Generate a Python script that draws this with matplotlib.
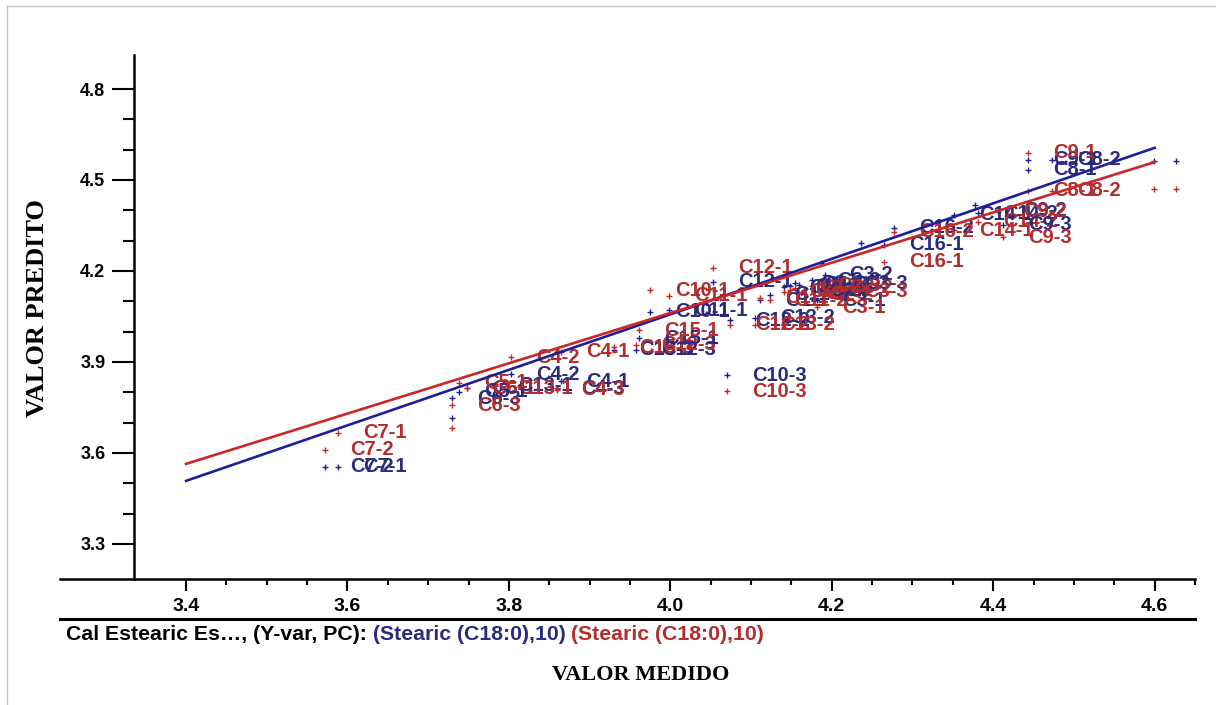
import numpy as np
import matplotlib.pyplot as plt
from matplotlib.lines import Line2D

# Samples: measured value, calibration prediction (blue), validation prediction (red)
names = ["C7-1", "C7-2", "C6-3", "C6-1", "C13-1", "C5-1", "C4-2", "C4-1", "C4-3",
         "C15-3", "C12-3", "C15-1", "C10-1", "C11-1", "C12-1", "C10-3", "C12-2",
         "C13-2", "C1-1", "C11-2", "C11-3", "C1-2", "C2-1", "C1-3", "C2-2", "C2-3",
         "C3-1", "C3-2", "C3-3", "C16-1", "C16-2", "C14-1", "C14-2", "C9-3", "C9-2",
         "C9-1", "C8-1", "C8-2"]
measured = [3.588, 3.572, 3.730, 3.748, 3.781, 3.738, 3.803, 3.865, 3.859,
            3.930, 3.957, 3.961, 3.975, 3.998, 4.053, 4.070, 4.074,
            4.105, 4.111, 4.123, 4.141, 4.148, 4.154, 4.160, 4.166, 4.176,
            4.182, 4.191, 4.209, 4.265, 4.277, 4.351, 4.381, 4.412, 4.406,
            4.443, 4.443, 4.473]
pred_cal = [3.554, 3.554, 3.781, 3.814, 3.824, 3.801, 3.860, 3.837, 3.814,
            3.940, 3.940, 3.979, 4.065, 4.071, 4.164, 3.857, 4.038,
            4.045, 4.104, 4.121, 4.147, 4.150, 4.160, 4.155, 4.137, 4.170,
            4.104, 4.187, 4.160, 4.286, 4.342, 4.385, 4.391, 4.352, 4.401,
            4.566, 4.533, 4.566]
pred_val = [3.666, 3.610, 3.758, 3.814, 3.814, 3.831, 3.916, 3.933, 3.808,
            3.949, 3.956, 4.005, 4.137, 4.118, 4.210, 3.804, 4.022,
            4.022, 4.111, 4.104, 4.131, 4.137, 4.144, 4.127, 4.124, 4.151,
            4.081, 4.144, 4.131, 4.230, 4.329, 4.335, 4.362, 4.312, 4.395,
            4.589, 4.464, 4.464]

# Unlabelled points
cal_only_x = [4.599, 4.627, 4.236, 4.187, 4.378, 3.730]
cal_only_y = [4.563, 4.563, 4.292, 4.226, 4.418, 3.715]
val_only_x = [4.599, 4.627, 3.730]
val_only_y = [4.470, 4.470, 3.682]

# Regression lines
fit_x = [3.4, 4.6]
fit_cal = [3.508, 4.606]
fit_val = [3.564, 4.559]

blue = "#1e1e9c"
red = "#cc2626"
blue_txt = "#2b2b7d"
red_txt = "#b22d2d"

W, H = 1216, 705
fig = plt.figure(figsize=(W / 100, H / 100), dpi=100)


def fx(px):
    return px / W


def fy(py):
    return 1 - py / H


# x: 3.4 -> 187 px, 813.3 px per unit; y: 4.8 -> 89 px, 303.3 px per unit
ax = fig.add_axes([fx(60), fy(579), fx(1195) - fx(60), fy(55) - fy(579)])
ax.set_xlim(3.4 + (60 - 187) / 813.3, 3.4 + (1195 - 187) / 813.3)
ax.set_ylim(4.8 - (579 - 89) / 303.3, 4.8 - (55 - 89) / 303.3)

for s in ["top", "right"]:
    ax.spines[s].set_visible(False)
ax.spines["left"].set_position(("data", 3.4 + (135 - 187) / 813.3))
ax.spines["left"].set_linewidth(1.8)
ax.spines["bottom"].set_linewidth(1.8)

xt = np.arange(3.4, 4.61, 0.2)
yt = np.arange(3.3, 4.81, 0.3)
ax.set_xticks(xt)
ax.set_xticks(np.arange(3.45, 4.66, 0.05), minor=True)
ax.set_yticks(yt)
ax.set_yticks(np.arange(3.4, 4.71, 0.1), minor=True)
ax.set_xticklabels([f"{v:.1f}" for v in xt])
ax.set_yticklabels([f"{v:.1f}" for v in yt])

ax.tick_params(axis="x", which="major", direction="out", length=8.6, width=1.5,
               pad=5, labelsize=14)
ax.tick_params(axis="x", which="minor", direction="out", length=4.3, width=1.5)
ax.tick_params(axis="y", which="major", direction="out", length=16, width=1.5,
               pad=5, labelsize=13)
ax.tick_params(axis="y", which="minor", direction="out", length=8, width=1.5)
for lab in ax.get_xticklabels() + ax.get_yticklabels():
    lab.set_fontweight("bold")
    lab.set_family("Liberation Sans")

# points and sample names
ax.plot(measured, pred_cal, "+", color=blue, ms=5, mew=1, zorder=2)
ax.plot(measured, pred_val, "+", color=red, ms=5, mew=1, zorder=2)
ax.plot(cal_only_x, cal_only_y, "+", color=blue, ms=5, mew=1, zorder=2)
ax.plot(val_only_x, val_only_y, "+", color=red, ms=5, mew=1, zorder=2)
for n, x, yc, yv in zip(names, measured, pred_cal, pred_val):
    ax.annotate(n, (x, yc), xytext=(18, 0), textcoords="offset points",
                va="center", ha="left", fontsize=14.5, fontweight="bold",
                color=blue_txt, family="Liberation Sans", zorder=2)
    ax.annotate(n, (x, yv), xytext=(18, 0), textcoords="offset points",
                va="center", ha="left", fontsize=14.5, fontweight="bold",
                color=red_txt, family="Liberation Sans", zorder=2)

ax.plot(fit_x, fit_cal, color=blue, lw=1.9, zorder=3)
ax.plot(fit_x, fit_val, color=red, lw=1.9, zorder=4)

# second rule under the tick labels
fig.add_artist(Line2D([fx(60), fx(1195)], [fy(619), fy(619)], color="black",
                      lw=2.2, transform=fig.transFigure))

# light frame around the panel
fig.add_artist(Line2D([fx(7), fx(7)], [fy(6), 0], color="#c4c4c4", lw=1,
                      transform=fig.transFigure))
fig.add_artist(Line2D([fx(7), 1], [fy(6), fy(6)], color="#c4c4c4", lw=1,
                      transform=fig.transFigure))

# legend line built from coloured pieces
parts = [("Cal Estearic Es…, (Y-var, PC): ", "black"),
         ("(Stearic (C18:0),10) ", blue_txt),
         ("(Stearic (C18:0),10)", red_txt)]
renderer = fig.canvas.get_renderer()
x0 = fx(66)
for s, c in parts:
    t = fig.text(x0, fy(634), s, color=c, fontsize=15.3, fontweight="bold",
                 family="Liberation Sans", va="center", ha="left")
    bb = t.get_window_extent(renderer)
    x0 = bb.x1 / W

fig.text(fx(38), fy(308), "VALOR PREDITO", rotation=90, ha="center", va="center",
         fontsize=19, fontweight="bold", family="Liberation Serif")
fig.text(fx(641), fy(675), "VALOR MEDIDO", ha="center", va="center",
         fontsize=16, fontweight="bold", family="Liberation Serif")

fig.savefig("out.png", dpi=100)
